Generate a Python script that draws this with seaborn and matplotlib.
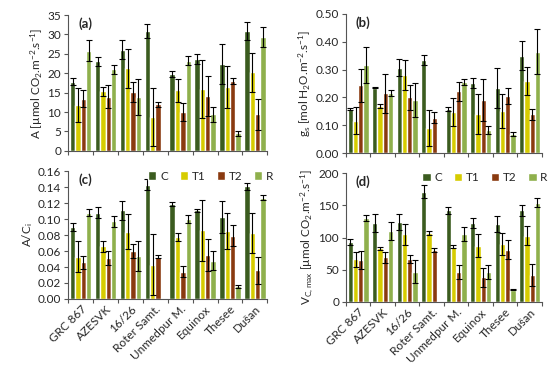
import numpy as np
import pandas as pd
import matplotlib
matplotlib.use("Agg")
import matplotlib.pyplot as plt
import seaborn as sns

genotypes = ["GRC 867", "AZESVK", "16/26", "Roter Samt.", "Unmedpur M.", "Equinox", "Thesee", "Dušan"]
treatments = ["C", "T1", "T2", "R"]
nan = np.nan

# Panel (a): A
A_C  = [17.8, 23.1, 26.1, 30.9, 19.9, 23.6, 22.3, 30.9]
A_T1 = [11.8, 15.3, 21.3, 8.7, 15.6, 16.0, 16.5, 20.2]
A_T2 = [13.4, 14.0, 15.1, 12.0, 10.0, 14.1, 18.0, 9.4]
A_R  = [25.8, 21.0, 13.9, nan, 23.2, 9.4, 4.5, 29.3]
A_C_err  = [0.9, 1.2, 2.4, 1.9, 0.8, 1.3, 5.2, 2.2]
A_T1_err = [4.5, 1.2, 5.0, 7.5, 3.0, 7.5, 5.4, 5.1]
A_T2_err = [2.2, 3.0, 2.6, 0.6, 2.2, 5.1, 0.9, 4.0]
A_R_err  = [2.7, 1.2, 4.7, nan, 1.2, 2.0, 0.6, 2.6]

# Panel (b): gs
G_C  = [0.158, 0.235, 0.307, 0.333, 0.158, 0.253, 0.233, 0.350]
G_T1 = [0.117, 0.170, 0.280, 0.090, 0.147, 0.140, 0.152, 0.258]
G_T2 = [0.243, 0.215, 0.200, 0.127, 0.222, 0.190, 0.205, 0.140]
G_R  = [0.318, 0.215, 0.190, nan, 0.256, 0.083, 0.068, 0.365]
G_C_err  = [0.005, 0.002, 0.030, 0.018, 0.008, 0.018, 0.072, 0.052]
G_T1_err = [0.050, 0.007, 0.055, 0.063, 0.050, 0.072, 0.062, 0.050]
G_T2_err = [0.060, 0.070, 0.045, 0.020, 0.035, 0.075, 0.030, 0.020]
G_R_err  = [0.065, 0.010, 0.062, nan, 0.010, 0.015, 0.007, 0.080]

# Panel (c): A/Ci
AC_C  = [0.090, 0.108, 0.111, 0.143, 0.119, 0.111, 0.103, 0.141]
AC_T1 = [0.053, 0.066, 0.084, 0.043, 0.077, 0.086, 0.085, 0.083]
AC_T2 = [0.046, 0.051, 0.060, 0.053, 0.034, 0.055, 0.079, 0.036]
AC_R  = [0.108, 0.097, 0.054, nan, 0.100, 0.048, 0.016, 0.127]
AC_C_err  = [0.005, 0.007, 0.012, 0.007, 0.003, 0.002, 0.020, 0.004]
AC_T1_err = [0.019, 0.007, 0.022, 0.038, 0.005, 0.038, 0.022, 0.025]
AC_T2_err = [0.008, 0.009, 0.009, 0.002, 0.007, 0.020, 0.013, 0.017]
AC_R_err  = [0.004, 0.007, 0.019, nan, 0.005, 0.012, 0.002, 0.003]

# Panel (d): Vc,max
V_C  = [93, 122, 124, 171, 142, 123, 121, 142]
V_T1 = [66, 83, 105, 107, 86, 87, 90, 103]
V_T2 = [65, 69, 67, 80, 46, 38, 81, 42]
V_R  = [130, 110, 47, nan, 106, 46, 19, 154]
V_C_err  = [4, 14, 12, 10, 6, 8, 13, 8]
V_T1_err = [12, 2, 16, 3, 3, 18, 17, 15]
V_T2_err = [14, 8, 6, 3, 11, 15, 15, 17]
V_R_err  = [5, 14, 18, nan, 11, 11, 1, 7]

colors = ["#3b5c1f", "#d6cc00", "#8a3a10", "#8fb04c"]

sns.set_theme(style="ticks")
plt.rcParams["font.family"] = ["Lato", "DejaVu Sans"]
plt.rcParams["mathtext.default"] = "regular"

fig = plt.figure(figsize=(5.5, 3.77), dpi=100)
positions = {
    "a": [0.124, 0.600, 0.362, 0.360],
    "b": [0.629, 0.594, 0.356, 0.369],
    "c": [0.124, 0.207, 0.362, 0.339],
    "d": [0.629, 0.199, 0.356, 0.342],
}

panels = [
    ("a", [A_C, A_T1, A_T2, A_R], [A_C_err, A_T1_err, A_T2_err, A_R_err],
     (0, 35), np.arange(0, 36, 5), lambda v: f"{v:g}",
     r"A [µmol CO$_2$.m$^{-2}$.s$^{-1}$]", False),
    ("b", [G_C, G_T1, G_T2, G_R], [G_C_err, G_T1_err, G_T2_err, G_R_err],
     (0, 0.5), np.arange(0, 0.51, 0.1), lambda v: f"{v:.2f}",
     r"g$_s$ [mol H$_2$O.m$^{-2}$.s$^{-1}$]", False),
    ("c", [AC_C, AC_T1, AC_T2, AC_R], [AC_C_err, AC_T1_err, AC_T2_err, AC_R_err],
     (0, 0.16), np.arange(0, 0.161, 0.02), lambda v: f"{v:.2f}",
     r"A/C$_i$", True),
    ("d", [V_C, V_T1, V_T2, V_R], [V_C_err, V_T1_err, V_T2_err, V_R_err],
     (0, 200), np.arange(0, 201, 50), lambda v: f"{v:g}",
     r"V$_{C,max}$ [µmol CO$_2$.m$^{-2}$.s$^{-1}$]", True),
]

for key, vals, errs, ylim, yticks, fmt, ylabel, bottom in panels:
    ax = fig.add_axes(positions[key])
    rows = []
    for t, v, e in zip(treatments, vals, errs):
        for g, vv, ee in zip(genotypes, v, e):
            rows.append({"genotype": g, "treatment": t, "value": vv, "err": ee})
    df = pd.DataFrame(rows)
    sns.barplot(data=df, x="genotype", y="value", hue="treatment",
                order=genotypes, hue_order=treatments, palette=colors,
                errorbar=None, width=0.86, saturation=1, ax=ax,
                legend=bottom)
    for cont, t, e_list in zip(ax.containers, treatments, errs):
        for patch in cont.patches:
            h = patch.get_height()
            if h is None or np.isnan(h):
                continue
            cx = patch.get_x() + patch.get_width() / 2
            gi = int(round(cx))
            e = e_list[gi]
            if np.isnan(e):
                continue
            ax.errorbar(cx, h, yerr=e, fmt="none", ecolor="black",
                        elinewidth=0.8, capsize=2.2, capthick=0.8)
    ax.set_xlim(-0.5, 7.5)
    ax.set_ylim(*ylim)
    ax.set_yticks(yticks)
    ax.set_yticklabels([fmt(v) for v in yticks], fontsize=8.5)
    ax.set_xticks(np.arange(-0.5, 8, 1))
    ax.set_xticklabels([])
    ax.tick_params(axis="x", which="major", length=3, width=0.8, color="#555555")
    ax.tick_params(axis="y", length=3, width=0.8, color="#555555", pad=2)
    ax.set_xticks(np.arange(8), minor=True)
    if bottom:
        ax.set_xticklabels(genotypes, minor=True, rotation=45, ha="right",
                           rotation_mode="anchor", fontsize=8.5)
    ax.tick_params(axis="x", which="minor", length=0, pad=3)
    ax.set_xlabel("")
    ax.set_ylabel(ylabel, fontsize=8.5, labelpad=2)
    for s in ["top", "right"]:
        ax.spines[s].set_visible(False)
    for s in ["left", "bottom"]:
        ax.spines[s].set_color("#555555")
        ax.spines[s].set_linewidth(0.8)
    ax.text(0.05, 0.98, f"({key})", transform=ax.transAxes, fontsize=9.5,
            fontweight="bold", va="top", ha="left")
    if bottom:
        leg = ax.legend(loc="upper right", bbox_to_anchor=(1.06, 1.05), ncol=4,
                        frameon=False, fontsize=8.5, handlelength=0.7,
                        handleheight=0.7, handletextpad=0.3, columnspacing=1.0,
                        borderaxespad=0.1)

fig.savefig("out.png", dpi=100)
